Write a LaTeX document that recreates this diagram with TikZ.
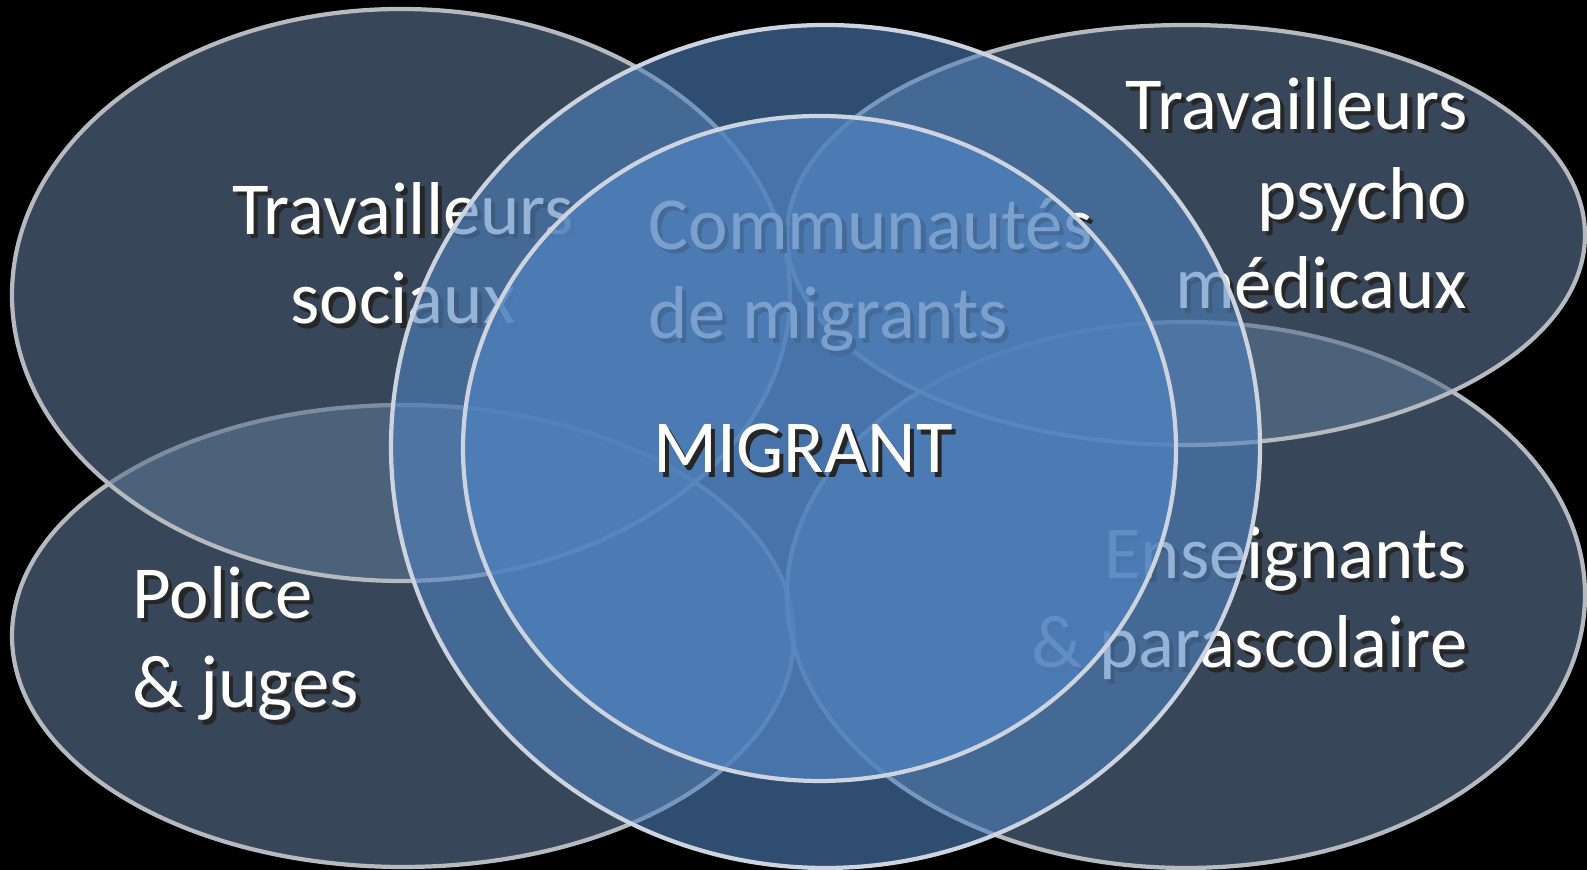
\documentclass[tikz,border=0pt]{standalone}
\usepackage{fontspec}
\setmainfont{Carlito}
\usepackage{tikz}

\definecolor{slate}{RGB}{89,115,145}
\definecolor{officeblue}{RGB}{79,129,189}
\definecolor{rimgray}{RGB}{182,185,190}
\definecolor{rimlight}{RGB}{205,212,224}

% white text with a small dark shadow
\newcommand{\shd}[1]{\rlap{\kern1.2pt\raisebox{-1.2pt}{\color{black!85}#1}}#1}

\begin{document}
\begin{tikzpicture}[
    field/.style={fill=slate, fill opacity=0.62, draw=rimgray, line width=1.2pt},
    community/.style={fill=officeblue, fill opacity=0.6, draw=rimlight, line width=1.2pt},
    core/.style={fill=officeblue, fill opacity=0.75, draw=rimlight, line width=1.2pt},
    lbl/.style={text=white, font=\fontsize{21.3}{25.5}\selectfont, inner sep=0pt}
]
            % background
            \fill[black] (0,0) rectangle (15.87,8.70);
            \useasboundingbox (0,0) rectangle (15.87,8.70);

            % outer fields
            \draw[field] (4.03,2.34) ellipse [x radius=3.91, y radius=2.31];
            \draw[field] (11.86,2.75) ellipse [x radius=3.99, y radius=2.73];
            \draw[field] (4.01,5.75) ellipse [x radius=3.89, y radius=2.86];
            \draw[field] (11.86,6.35) ellipse [x radius=3.99, y radius=2.10];

            % labels of the fields (base = last line)
            \node[lbl, align=center, anchor=base] (social) at (4.03,5.46) {\shd{Travailleurs}\\\shd{sociaux}};
            \node[lbl, align=right, anchor=base east] (medical) at (14.68,5.61) {\shd{Travailleurs}\\\shd{psycho}\\\shd{médicaux}};
            \node[lbl, align=left, anchor=base west] (police) at (1.32,1.62) {\shd{Police}\\\shd{\& juges}};
            \node[lbl, align=right, anchor=base east] (school) at (14.68,2.02) {\shd{Enseignants}\\\shd{\& parascolaire}};

            % communities
            \draw[community] (8.255,4.235) ellipse [x radius=4.345, y radius=4.215];
            \node[lbl, align=left, anchor=base west] (community) at (6.48,5.31) {\shd{Communautés}\\\shd{de migrants}};

            % migrant in the middle
            \draw[core] (8.195,4.215) ellipse [x radius=3.565, y radius=3.325];
            \node[lbl, anchor=base] (migrant) at (8.03,3.97) {\shd{MIGRANT}};

        \end{tikzpicture}
\end{document}
